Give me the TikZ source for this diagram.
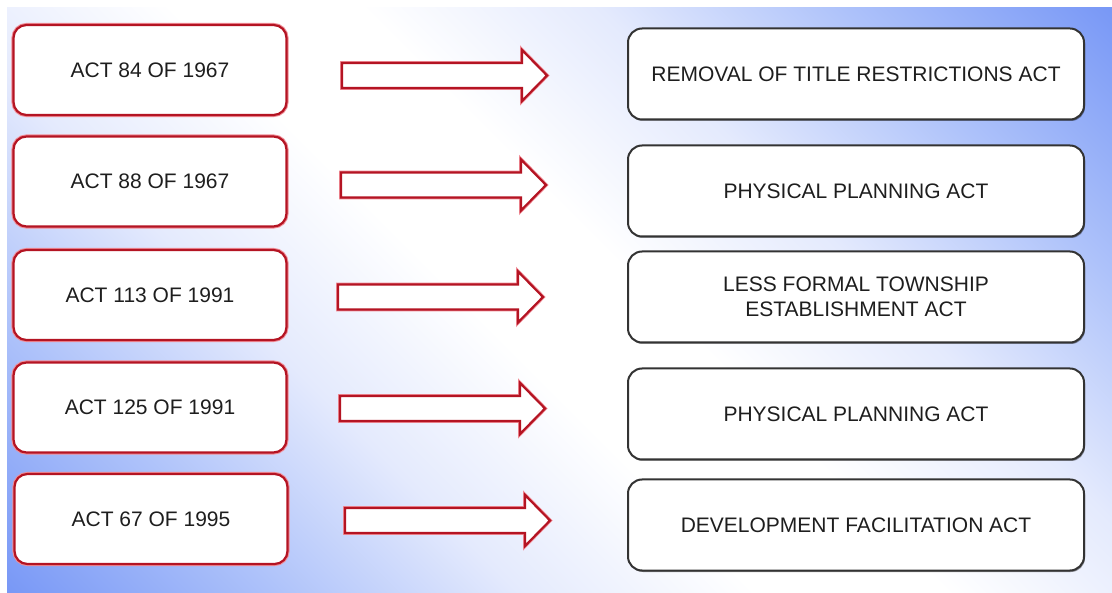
\documentclass[tikz,border=0pt]{standalone}
\usepackage{fontspec}
\setmainfont{Liberation Sans}
\usetikzlibrary{shadows}
\definecolor{bgblue}{RGB}{118,150,246}
\definecolor{bgmid}{RGB}{175,195,250}
\definecolor{bglight}{RGB}{228,234,253}
\definecolor{leftred}{RGB}{180,20,35}
\definecolor{halored}{RGB}{240,140,150}
\definecolor{txt}{RGB}{30,30,30}
\pgfdeclarehorizontalshading{bgshade}{100bp}{color(0bp)=(bgblue); color(14bp)=(bgblue); color(26bp)=(bgmid); color(36bp)=(bglight); color(46bp)=(white); color(54bp)=(white); color(64bp)=(bglight); color(74bp)=(bgmid); color(86bp)=(bgblue); color(100bp)=(bgblue)}
\tikzset{
  leftbox/.style={draw=leftred, line width=2.2pt, rounded corners=13pt, fill=white,
    minimum width=273pt, minimum height=90pt, text=txt, align=center,
    font=\fontsize{21}{25}\selectfont,
    preaction={draw=halored, line width=4.2pt}},
  rightbox/.style={draw=black!80, line width=2pt, rounded corners=14pt, fill=white,
    minimum width=456pt, minimum height=91pt, text=txt, align=center,
    font=\fontsize{21}{25}\selectfont,
    drop shadow={shadow xshift=1pt, shadow yshift=-1.5pt, opacity=0.4, fill=black}},
  arrowline/.style={draw=leftred, line width=2.2pt, fill=white, line join=miter,
    preaction={draw=halored, line width=3.8pt}},
  blockarrow/.pic={\path[arrowline] (0,-12.5) -- (180,-12.5) -- (180,-25.5) -- (205,0) -- (180,25.5) -- (180,12.5) -- (0,12.5) -- cycle;}
}
\begin{document}
\begin{tikzpicture}[x=1pt,y=-1pt]
\useasboundingbox (0,0) rectangle (1112,593);
\fill[white] (0,0) rectangle (1112,593);
\shade[shading=bgshade, shading angle=45] (7,8) rectangle (1112,593);

\node[leftbox] (L1) at (150,70) {ACT 84 OF 1967};
\node[leftbox] (L2) at (150,181.5) {ACT 88 OF 1967};
\node[leftbox] (L3) at (150,295) {ACT 113 OF 1991};
\node[leftbox] (L4) at (150,407.5) {ACT 125 OF 1991};
\node[leftbox] (L5) at (151,519) {ACT 67 OF 1995};

\node[rightbox] (R1) at (856,74) {REMOVAL OF TITLE RESTRICTIONS ACT};
\node[rightbox] (R2) at (856,191) {PHYSICAL PLANNING ACT};
\node[rightbox] (R3) at (856,297) {LESS FORMAL TOWNSHIP\\ESTABLISHMENT ACT};
\node[rightbox] (R4) at (856,414) {PHYSICAL PLANNING ACT};
\node[rightbox] (R5) at (856,525) {DEVELOPMENT FACILITATION ACT};

\pic (A1) at (342,75.5) {blockarrow};
\pic (A2) at (341,185) {blockarrow};
\pic (A3) at (338,297) {blockarrow};
\pic (A4) at (340,408.5) {blockarrow};
\pic (A5) at (345,520.5) {blockarrow};
\end{tikzpicture}
\end{document}
